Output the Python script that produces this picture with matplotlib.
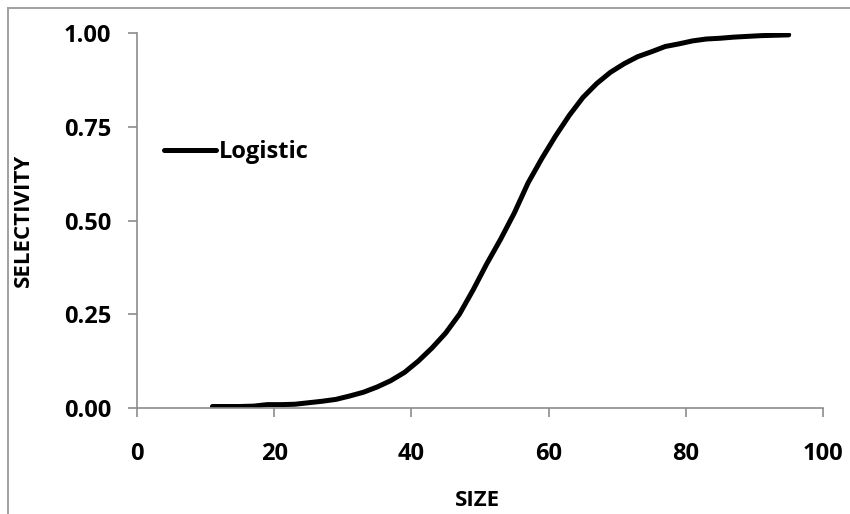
import matplotlib.pyplot as plt
from matplotlib.ticker import FormatStrFormatter

size = [11, 13, 15, 17, 19, 21, 23, 25, 27, 29, 31, 33, 35, 37, 39, 41, 43, 45,
        47, 49, 51, 53, 55, 57, 59, 61, 63, 65, 67, 69, 71, 73, 75, 77, 79, 81,
        83, 85, 87, 89, 91, 93, 95]
selectivity = [0.004, 0.004, 0.004, 0.005, 0.009, 0.009, 0.010, 0.014, 0.018, 0.023,
               0.032, 0.042, 0.056, 0.073, 0.095, 0.125, 0.160, 0.200, 0.250, 0.315,
               0.385, 0.450, 0.520, 0.600, 0.665, 0.725, 0.780, 0.828, 0.865, 0.895,
               0.918, 0.937, 0.950, 0.964, 0.971, 0.979, 0.984, 0.986, 0.989, 0.991,
               0.993, 0.994, 0.995]
xticks = [0, 20, 40, 60, 80, 100]
yticks = [0.0, 0.25, 0.5, 0.75, 1.0]

plt.rcParams['font.family'] = ['Open Sans', 'DejaVu Sans']
plt.rcParams['font.weight'] = 'bold'

fig = plt.figure(figsize=(8.5, 5.14), dpi=100)

# outer chart border: a bare axes whose top/left spines are the frame
frame = fig.add_axes([8/850, -0.2, 1.0, 1.2 - 8/514])
frame.set_xticks([])
frame.set_yticks([])
frame.patch.set_visible(False)
for s in ['bottom', 'right']:
    frame.spines[s].set_visible(False)
for s in ['top', 'left']:
    frame.spines[s].set_color('#a0a0a0')
    frame.spines[s].set_linewidth(1.4)

ax = fig.add_axes([137/850, 106/514, 686/850, 375/514])

ax.plot(size, selectivity, color='black', lw=3.6, solid_capstyle='round',
        label='Logistic')

ax.set_xlim(0, 100)
ax.set_ylim(0, 1)
ax.set_xticks(xticks)
ax.set_yticks(yticks)
ax.yaxis.set_major_formatter(FormatStrFormatter('%.2f'))

gray = '#8c8c8c'
for s in ['top', 'right']:
    ax.spines[s].set_visible(False)
for s in ['left', 'bottom']:
    ax.spines[s].set_color(gray)
    ax.spines[s].set_linewidth(1.2)
ax.tick_params(axis='both', direction='out', length=6.5, width=1.2, color=gray,
               labelsize=17)
ax.tick_params(axis='y', pad=12)
ax.tick_params(axis='x', pad=18)
for lbl in ax.get_xticklabels() + ax.get_yticklabels():
    lbl.set_fontweight('bold')

ax.set_xlabel('SIZE', fontsize=16, fontweight='bold')
ax.set_ylabel('SELECTIVITY', fontsize=16, fontweight='bold')
ax.xaxis.set_label_coords(0.497, -0.219)
ax.yaxis.set_label_coords(-0.150, 0.5)

ax.legend(loc='center left', bbox_to_anchor=(0.039, 0.683), frameon=False,
          borderpad=0, borderaxespad=0, handlelength=2.2, handletextpad=0.15,
          prop={'size': 17, 'weight': 'bold'})

fig.savefig('out.png', dpi=100)
